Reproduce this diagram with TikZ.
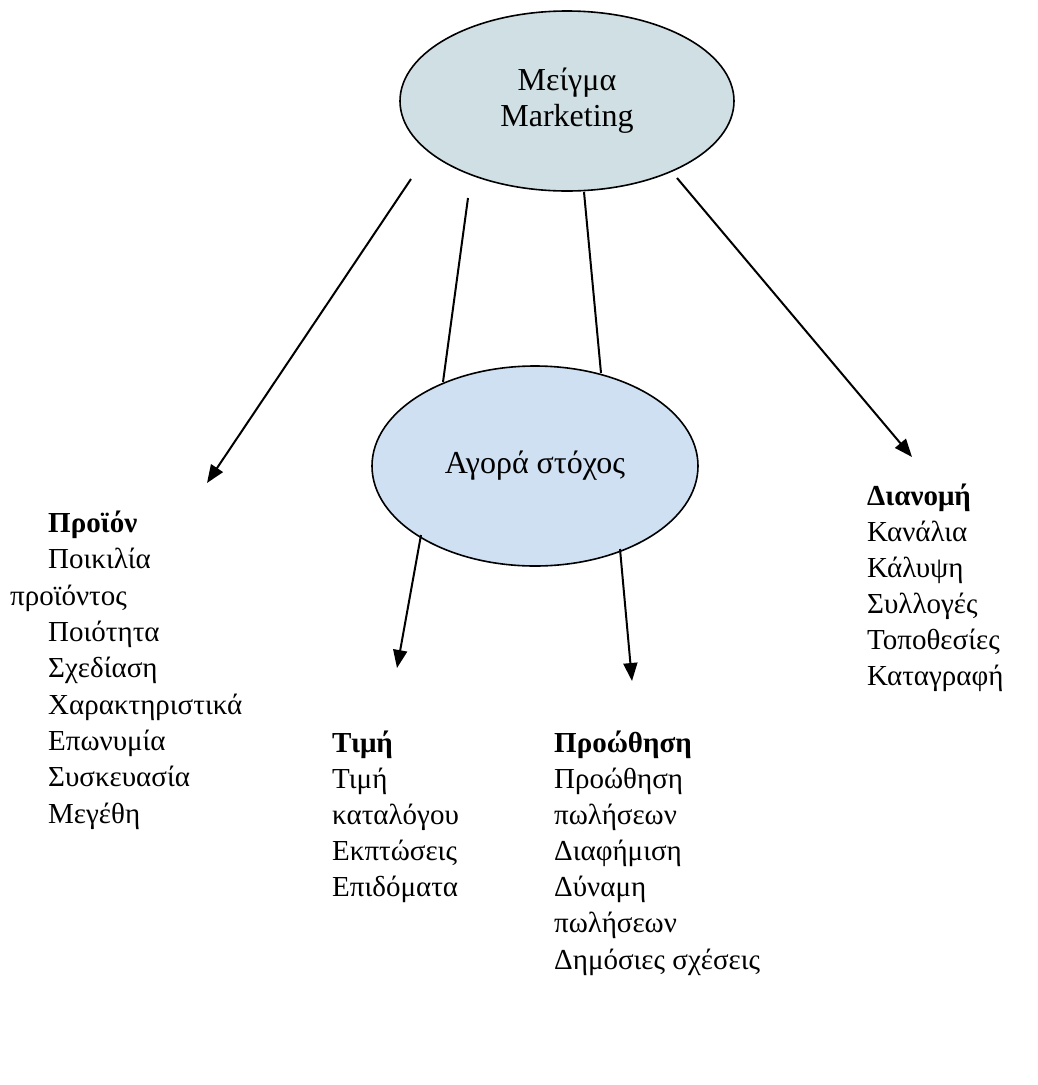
\documentclass[tikz,border=0pt]{standalone}
\usepackage{fontspec}
\setmainfont{Liberation Serif}
\usetikzlibrary{shapes.geometric,arrows.meta}
\definecolor{topfill}{RGB}{208,223,227}
\definecolor{midfill}{RGB}{206,224,241}
\tikzset{
  bubble/.style={ellipse,draw=black,line width=1.6pt,inner sep=0pt,align=center,font=\fontsize{32}{36}\selectfont},
  conn/.style={line width=2pt},
  arr/.style={line width=2pt,-{Triangle[length=18pt,width=14pt]}},
  item/.style={anchor=base west,inner sep=0pt,font=\fontsize{29}{36}\selectfont},
  head/.style={item,font=\fontsize{29}{36}\selectfont\bfseries}
}
\begin{document}
\begin{tikzpicture}[x=1pt,y=-1pt]
\useasboundingbox (0,0) rectangle (1038,1085);
% ellipses
\node[bubble,fill=topfill,minimum width=334pt,minimum height=180pt] (mix) at (567,101) {Μείγμα\\Marketing};
\node[bubble,fill=midfill,minimum width=326pt,minimum height=200pt] (target) at (535,466) {Αγορά στόχος};
% connector end points
\coordinate (s1) at (411,179);
\coordinate (t1) at (207,483);
\coordinate (s2) at (468,198);
\coordinate (e2) at (443,382);
\coordinate (s3) at (584,192);
\coordinate (e3) at (601,373);
\coordinate (s4) at (677,178);
\coordinate (t4) at (912,457);
\coordinate (s5) at (421,535);
\coordinate (t5) at (397,668);
\coordinate (s6) at (620,549);
\coordinate (t6) at (632,681);
\draw[arr] (s1) -- (t1);
\draw[conn] (s2) -- (e2);
\draw[conn] (s3) -- (e3);
\draw[arr] (s4) -- (t4);
\draw[arr] (s5) -- (t5);
\draw[arr] (s6) -- (t6);
% Product column
\node[head] (p0) at (48,532) {Προϊόν};
\node[item] (p1) at (48,568) {Ποικιλία};
\node[item] (p2) at (10,605) {προϊόντος};
\node[item] (p3) at (48,641) {Ποιότητα};
\node[item] (p4) at (48,677) {Σχεδίαση};
\node[item] (p5) at (48,714) {Χαρακτηριστικά};
\node[item] (p6) at (48,750) {Επωνυμία};
\node[item] (p7) at (48,786) {Συσκευασία};
\node[item] (p8) at (48,823) {Μεγέθη};
% Price column
\node[head] (r0) at (332,752) {Τιμή};
\node[item] (r1) at (332,788) {Τιμή};
\node[item] (r2) at (332,824) {καταλόγου};
\node[item] (r3) at (332,860) {Εκπτώσεις};
\node[item] (r4) at (332,896) {Επιδόματα};
% Promotion column
\node[head] (q0) at (554,752) {Προώθηση};
\node[item] (q1) at (554,788) {Προώθηση};
\node[item] (q2) at (554,824) {πωλήσεων};
\node[item] (q3) at (554,860) {Διαφήμιση};
\node[item] (q4) at (554,896) {Δύναμη};
\node[item] (q5) at (554,932) {πωλήσεων};
\node[item] (q6) at (554,969) {Δημόσιες σχέσεις};
% Distribution column
\node[head] (d0) at (867,505) {Διανομή};
\node[item] (d1) at (867,541) {Κανάλια};
\node[item] (d2) at (867,577) {Κάλυψη};
\node[item] (d3) at (867,613) {Συλλογές};
\node[item] (d4) at (867,649) {Τοποθεσίες};
\node[item] (d5) at (867,685) {Καταγραφή};
\end{tikzpicture}
\end{document}
